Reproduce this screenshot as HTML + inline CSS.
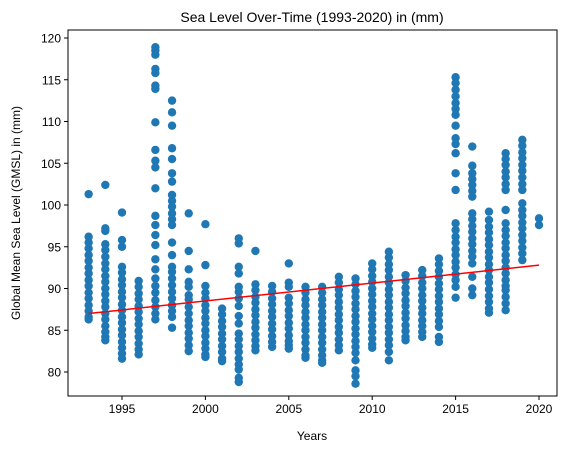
<!DOCTYPE html>
<html><head><meta charset="utf-8"><style>
html,body{margin:0;padding:0;background:#fff;}
svg text{font-family:"Liberation Sans","DejaVu Sans",sans-serif;fill:#000;}
</style></head><body>
<svg id="chart" width="571" height="453" viewBox="0 0 571 453" xmlns="http://www.w3.org/2000/svg">
<rect width="571" height="453" fill="#fff"/>
<text x="312" y="22" font-size="14" text-anchor="middle">Sea Level Over-Time (1993-2020) in (mm)</text>
<g id="plot"></g>
<g id="axes"></g>
<text x="312" y="440" font-size="12" text-anchor="middle">Years</text>
<text x="0" y="0" font-size="12" text-anchor="middle" transform="translate(20,213) rotate(-90)">Global Mean Sea Level (GMSL) in (mm)</text>
</svg>
<script>
const years = [1993,1994,1995,1996,1997,1998,1999,2000,2001,2002,2003,2004,2005,2006,2007,2008,2009,2010,2011,2012,2013,2014,2015,2016,2017,2018,2019,2020];
const gmsl = [
[101.3,96.2,95.5,94.8,94,93.3,92.5,91.8,91,90.3,89.5,88.8,88,87.3,86.6,86.3],
[102.4,97.2,96.9,95.3,94.6,93.8,93,92.3,91.5,90.8,90,89.3,88.5,87.8,87,86.3,85.5,84.8,84.2,83.8],
[99.1,95.8,95,92.6,91.9,91.1,90.4,89.6,88.9,88.1,87.4,86.6,85.9,85.1,84.4,83.6,82.9,82.2,81.6],
[90.9,90.2,89.4,88.7,87.9,87.2,86.4,85.7,84.9,84.2,83.4,82.7,82.1],
[118.9,118.5,118,116.3,115.8,114.3,113.9,109.9,106.6,105.3,104.5,102,98.7,97.6,96.4,95.2,93.5,92.3,91.2,90.3,89.5,88.6,87.8,87,86.3],
[112.5,111.1,109.5,106.8,105.5,103.8,102.8,101.2,100.5,99.8,99,98.3,97.6,95.5,94,92.6,92,91.2,90.4,89.6,88.8,88,87.3,86.6,85.3],
[99,94.5,92.3,90.8,90.2,89.2,88.7,87.8,87,86.2,85.5,84.7,84,83.2,82.5],
[97.7,92.8,90.3,89.5,88.8,88,87.3,86.5,85.8,85,84.3,83.5,82.8,82.1,81.8],
[87.6,86.9,86.1,85.4,84.6,83.9,83.1,82.4,81.6,81.3],
[96,95.4,92.6,91.8,90.2,89.6,88.8,87.9,86.7,85.8,84.6,83.9,83.1,82.4,81.6,80.9,80.3,79.3,78.8],
[94.5,90.5,89.8,89,88.3,87.5,86.8,86,85.3,84.5,83.8,83.1,82.6],
[90.3,89.6,88.8,88.1,87.3,86.6,85.8,85.1,84.3,83.6,83],
[93,90.7,90.2,88.9,88.2,87.4,86.7,85.9,85.2,84.4,83.7,83.2,82.8],
[90.2,89.5,88.7,88,87.2,86.5,85.7,85,84.2,83.5,82.7,82,81.7],
[90.2,89.5,88.7,88,87.2,86.5,85.7,85,84.2,83.5,82.7,82,81.4,81.1],
[91.4,90.7,89.9,89.2,88.4,87.7,86.9,86.2,85.4,84.7,83.9,83.2,82.6],
[91.2,90.5,89.7,89,88.2,87.5,86.7,86,85.2,84.5,83.7,83,82.3,81.4,80.2,79.5,78.6],
[93,92.3,91.5,90.8,90,89.3,88.5,87.8,87,86.3,85.5,84.8,84,83.3,82.9],
[94.4,93.7,92.9,92.2,91.4,90.7,89.9,89.2,88.4,87.7,86.9,86.2,85.4,84.7,83.9,83.2,82.4,81.4],
[91.6,90.9,90.1,89.4,88.6,87.9,87.1,86.4,85.6,84.9,84.2,83.8],
[92.2,91.5,90.7,90,89.2,88.5,87.7,87,86.2,85.5,84.8,84.2],
[93.6,92.9,92.1,91.4,90.6,89.9,89.1,88.4,87.6,86.9,86.1,85.4,84.2,83.6],
[115.3,114.6,113.8,113,112.2,111.5,110.8,109.5,108,107.3,106.2,103.8,101.8,97.8,97,96.2,95.5,94.7,94,93.2,92.5,91.7,91,90.2,88.9],
[107,104.7,103.8,103.1,102.4,101.7,101,99,98.3,97.5,96.8,96,95.3,94.5,93.8,93,91.4,90,89.2],
[99.2,98.2,97.4,96.7,95.9,95.2,94.4,93.7,92.9,92.2,91.4,90.7,89.9,89.1,88.4,87.6,87.1],
[106.2,105.5,104.8,104,103.3,102.5,101.8,99.4,97.8,97,96.3,95.5,94.8,94,93.3,92.5,91.8,91,90.3,89.8,89,88.2,87.4],
[107.8,107.1,106.3,105.6,104.8,104.1,103.3,102.5,101.8,100.2,99.4,98.7,97.9,97.2,96.4,95.7,94.9,94.2,93.4],
[98.4,97.6]
];
const trendYears = [1993, 2020];
const trendValues = [87.0, 92.8];
const xTicks = [1995,2000,2005,2010,2015,2020];
const yTicks = [80,85,90,95,100,105,110,115,120];

const NS = "http://www.w3.org/2000/svg";
const L=68, R=557, T=30, B=396;
function xs(v){ return 122 + (v-1995)*(539-122)/25; }
function ys(v){ return 372 - (v-80)*(372-38)/40; }
const plot = document.getElementById('plot');
const axes = document.getElementById('axes');
function mk(tag, attrs, parent){ const e=document.createElementNS(NS,tag); for(const k in attrs) e.setAttribute(k,attrs[k]); parent.appendChild(e); return e; }

years.forEach((yr,i)=>{
  gmsl[i].forEach(v=>{
    const c = mk('circle',{cx:xs(yr),cy:ys(v),r:4.2,fill:'#1f77b4'},plot);
    
    
  });
});
const tl = mk('line',{x1:xs(trendYears[0]),y1:ys(trendValues[0]),x2:xs(trendYears[1]),y2:ys(trendValues[1]),stroke:'#ff0000','stroke-width':1.5},plot);



const frame = mk('rect',{x:L,y:T,width:R-L,height:B-T,fill:'none',stroke:'#000','stroke-width':1},axes);


xTicks.forEach(t=>{
  const x=xs(t);
  const tk = mk('line',{x1:x,y1:B,x2:x,y2:B+4,stroke:'#000','stroke-width':1},axes);
  
  
  const tx = mk('text',{x:x,y:B+17,'font-size':12,'text-anchor':'middle'},axes);
  tx.textContent = t;
  
  
});
yTicks.forEach(t=>{
  const y=ys(t);
  const tk = mk('line',{x1:L-4,y1:y,x2:L,y2:y,stroke:'#000','stroke-width':1},axes);
  
  
  const tx = mk('text',{x:L-7,y:y+4.5,'font-size':12,'text-anchor':'end'},axes);
  tx.textContent = t;
  
  
});
</script>
</body></html>
